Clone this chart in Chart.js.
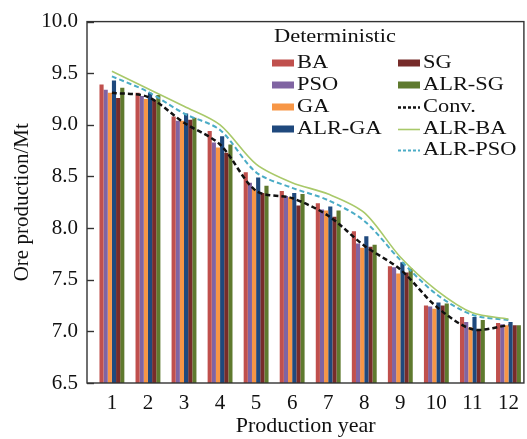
<!DOCTYPE html>
<html><head><meta charset="utf-8">
<script src="https://cdn.jsdelivr.net/npm/chart.js@4.4.0/dist/chart.umd.min.js"></script>
<style>html,body{margin:0;padding:0;background:#fff;}#wrap{width:527px;height:439px;}</style>
</head><body><div id="wrap"><canvas id="c" width="527" height="439"></canvas></div>
<script>
const years   = [1,2,3,4,5,6,7,8,9,10,11,12];
const yTicks  = [6.5,7.0,7.5,8.0,8.5,9.0,9.5,10.0];
const BA      = [9.39,9.31,9.08,8.94,8.54,8.36,8.24,7.97,7.63,7.25,7.14,7.08];
const PSO     = [9.34,9.28,9.04,8.83,8.44,8.31,8.18,7.85,7.62,7.24,7.09,7.07];
const GA      = [9.31,9.25,9.04,8.78,8.38,8.30,8.17,7.81,7.56,7.22,7.04,7.06];
const ALR_GA  = [9.43,9.31,9.11,8.89,8.49,8.34,8.21,7.92,7.67,7.28,7.14,7.09];
const SG      = [9.26,9.24,9.05,8.73,8.34,8.22,8.11,7.82,7.57,7.25,7.01,7.06];
const ALR_SG  = [9.36,9.29,9.07,8.81,8.41,8.33,8.17,7.84,7.61,7.27,7.11,7.06];
const Conv    = [9.31,9.27,9.02,8.81,8.36,8.29,8.12,7.83,7.60,7.24,7.02,7.06];
const ALR_BA  = [9.52,9.35,9.18,9.00,8.62,8.44,8.33,8.15,7.72,7.40,7.18,7.12];
const ALR_PSO = [9.47,9.32,9.11,8.95,8.54,8.39,8.27,8.07,7.69,7.36,7.16,7.11];

const pts = arr => arr.map((v,i)=>({x:years[i], y:v}));
const bar = (label, arr, color) => ({type:'bar', label, data:pts(arr), backgroundColor:color, borderWidth:0, order:1});
const line = (label, arr, color, width, dash) => ({type:'line', label, data:pts(arr), borderColor:color, borderWidth:width, borderDash:dash, pointRadius:0, tension:0.3, fill:false, order:0});

const datasets = [
  bar('BA', BA, '#c0504d'),
  bar('PSO', PSO, '#8064a2'),
  bar('GA', GA, '#f79646'),
  bar('ALR-GA', ALR_GA, '#1f497d'),
  bar('SG', SG, '#772c2a'),
  bar('ALR-SG', ALR_SG, '#5f7a2e'),
  line('Conv.', Conv, '#111111', 2.5, [5,3]),
  line('ALR-BA', ALR_BA, '#a9c96a', 1.6, []),
  line('ALR-PSO', ALR_PSO, '#4bacc6', 2, [5,3])
];

const legendCols = [['BA','PSO','GA','ALR-GA'], ['SG','ALR-SG','Conv.','ALR-BA','ALR-PSO']];

function sText(ctx, t, x, y){ ctx.save(); ctx.translate(x,y); ctx.scale(1.18,1); ctx.fillText(t,0,0); ctx.restore(); }

const framePlugin = {
  id:'frame',
  afterDraw(chart){
    const {ctx, chartArea:a, scales:{y}} = chart;
    ctx.save();
    ctx.strokeStyle='#333'; ctx.lineWidth=1.4; ctx.setLineDash([]);
    ctx.strokeRect(a.left, a.top, a.right-a.left-0.5, a.bottom-a.top);
    y.ticks.forEach(t=>{ const py=Math.round(y.getPixelForValue(t.value))+0.5; ctx.beginPath(); ctx.moveTo(a.left,py); ctx.lineTo(a.left+7,py); ctx.stroke(); });
    // legend
    ctx.font = "19px 'Liberation Serif', 'Times New Roman', serif";
    ctx.fillStyle = '#111'; ctx.textBaseline='middle'; ctx.textAlign='left';
    sText(ctx, 'Deterministic', 274, 37);
    const colX = [272, 398], rowY = [63, 85, 107, 129, 150];
    legendCols.forEach((col,ci)=>{
      col.forEach((lab,ri)=>{
        const ds = chart.data.datasets.find(d=>d.label===lab);
        const x = colX[ci], yy = rowY[ri];
        if (ds.type==='bar'){
          ctx.fillStyle = ds.backgroundColor; ctx.fillRect(x, yy-3.5, 22, 7);
        } else {
          ctx.strokeStyle = ds.borderColor; ctx.lineWidth = ds.borderWidth; ctx.setLineDash(ds.borderDash.length? [3,2]:[]);
          ctx.beginPath(); ctx.moveTo(x, yy+0.5); ctx.lineTo(x+22, yy+0.5); ctx.stroke(); ctx.setLineDash([]);
        }
        ctx.fillStyle='#111';
        sText(ctx, lab, x+25, yy);
      });
    });
    ctx.restore();
  }
};

Chart.defaults.font.family = "'Liberation Serif', 'Times New Roman', serif";
Chart.defaults.color = '#111';

new Chart(document.getElementById('c'), {
  type:'bar',
  data:{datasets},
  options:{
    responsive:false, animation:false, devicePixelRatio:1,
    layout:{padding:{top:20, right:1, left:0, bottom:0}},
    plugins:{legend:{display:false}, tooltip:{enabled:false}},
    datasets:{bar:{categoryPercentage:0.69, barPercentage:1.0}},
    scales:{
      x:{type:'linear', min:0.309, max:12.442, offset:false,
         grid:{display:false, drawTicks:false, offset:false}, border:{display:false},
         afterBuildTicks: s => { s.ticks = years.map(v=>({value:v})); },
         afterFit: s => { s.height = 56; },
         ticks:{autoSkip:false, maxRotation:0, padding:8, font:{size:21}, callback:v=>String(v)},
         title:{display:true, text:'Production year', font:{size:22}, padding:{top:0,bottom:0}}},
      y:{type:'linear', min:6.5, max:10,
         grid:{display:false, drawTicks:false}, border:{display:false},
         afterBuildTicks: s => { s.ticks = yTicks.map(v=>({value:v})); },
         afterFit: s => { s.width = 87; },
         ticks:{padding:9, font:{size:21}, callback:v=>Number(v).toFixed(1)},
         title:{display:true, text:'Ore production/Mt', font:{size:21}, padding:{top:10,bottom:0}}}
    }
  },
  plugins:[framePlugin]
});
</script></body></html>
